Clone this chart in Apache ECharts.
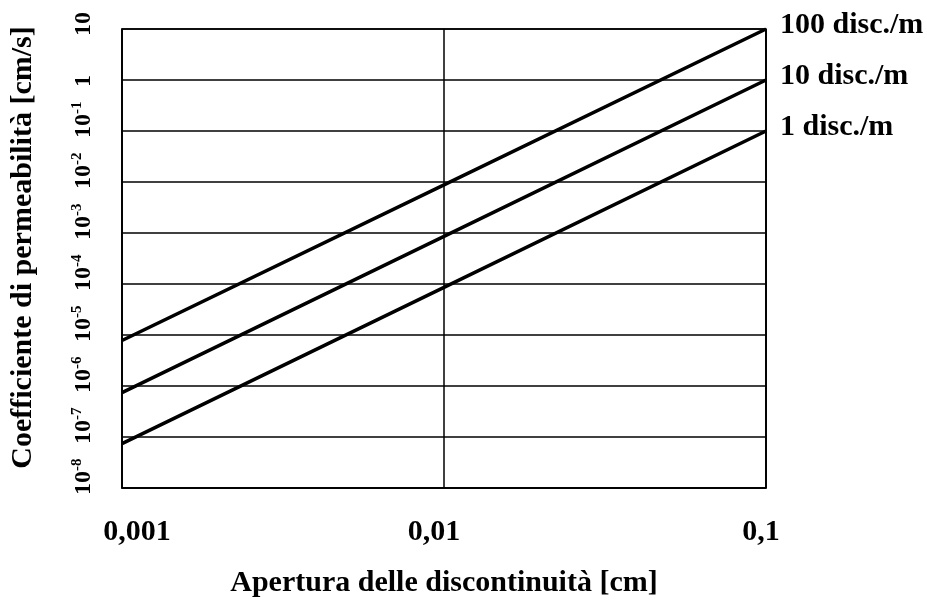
<!DOCTYPE html>
<html>
<head>
<meta charset="utf-8">
<script src="https://cdn.jsdelivr.net/npm/echarts@6/dist/echarts.min.js"></script>
<style>html,body{margin:0;padding:0;background:#fff;}#c{width:927px;height:603px;}</style>
</head>
<body>
<div id="c"></div>
<script>
// Data
const apertures = [0.001, 0.01, 0.1];               // cm
const k100 = [7.8e-6, 8.8e-3, 10];                 // 100 disc./m
const k10 = [7.4e-7, 8.6e-4, 1];                   // 10 disc./m
const k1 = [7.4e-8, 8.6e-5, 0.1];                  // 1 disc./m
const seriesNames = ['100 disc./m', '10 disc./m', '1 disc./m'];
const xTickLabels = {'0.001': '0,001', '0.01': '0,01', '0.1': '0,1'};
const xTitle = 'Apertura delle discontinuità [cm]';
const yTitle = 'Coefficiente di permeabilità [cm/s]';

const FONT = '"Liberation Serif", "Times New Roman", serif';
const pairs = v => apertures.map((x, i) => [x, v[i]]);

function yLabel(v) {
  const e = Math.round(Math.log10(v));
  if (e === 1) return '{b|10}';
  if (e === 0) return '{b|1}';
  return '{b|10}{s|' + (e < 0 ? '-' + (-e) : e) + '}';
}
const xStyleKeys = {'0.001': 'a', '0.01': 'm', '0.1': 'z'};
function xLabel(v) {
  const key = String(+v.toPrecision(3));
  if (xTickLabels[key] === undefined) return '';
  return '{' + xStyleKeys[key] + '|' + xTickLabels[key] + '}';
}

const chart = echarts.init(document.getElementById('c'), null, {renderer: 'canvas'});
const lineStyle = {color: '#000', width: 3.5};
const mk = (name, data) => ({
  name: name, type: 'line', data: pairs(data), symbol: 'none',
  lineStyle: lineStyle, itemStyle: {color: '#000'}, clip: true,
  endLabel: {
    show: true, formatter: name, color: '#000', fontFamily: FONT,
    fontWeight: 'bold', fontSize: 30, distance: 14, offset: [0, -4]
  },
  animation: false
});
const xl = {fontFamily: FONT, fontWeight: 'bold', fontSize: 30, color: '#000'};

chart.setOption({
  backgroundColor: '#fff',
  animation: false,
  grid: {left: 121, right: 161, top: 29, bottom: 111, show: true,
         borderColor: '#000', borderWidth: 1.5, backgroundColor: 'transparent'},
  xAxis: {
    type: 'log', logBase: 10, min: 0.001, max: 0.1,
    name: xTitle, nameLocation: 'middle', nameGap: 80,
    nameTextStyle: {fontFamily: FONT, fontWeight: 'bold', fontSize: 30, color: '#000'},
    axisLine: {show: true, lineStyle: {color: '#000', width: 1.5}},
    axisTick: {show: false},
    splitLine: {show: true, lineStyle: {color: '#000', width: 1.5}},
    axisLabel: {
      formatter: xLabel, margin: 29, color: '#000',
      rich: {
        a: Object.assign({padding: [0, 0, 0, 30]}, xl),
        m: Object.assign({padding: [0, 20, 0, 0]}, xl),
        z: Object.assign({padding: [0, 10, 0, 0]}, xl)
      }
    }
  },
  yAxis: {
    type: 'log', logBase: 10, min: 1e-8, max: 10, interval: 1,
    name: yTitle, nameLocation: 'middle', nameGap: 84, nameRotate: 90,
    nameTextStyle: {fontFamily: FONT, fontWeight: 'bold', fontSize: 30, color: '#000', padding: [0, 0, 0, 22]},
    axisLine: {show: true, lineStyle: {color: '#000', width: 1.5}},
    axisTick: {show: false},
    splitLine: {show: true, lineStyle: {color: '#000', width: 1.5}},
    axisLabel: {
      formatter: yLabel, rotate: 90, margin: 26, align: 'left', padding: [0, 0, 0, -7],
      color: '#000',
      rich: {
        b: {fontFamily: FONT, fontWeight: 'bold', fontSize: 24, color: '#000', lineHeight: 26, verticalAlign: 'bottom'},
        s: {fontFamily: FONT, fontWeight: 'bold', fontSize: 15, color: '#000', lineHeight: 26, verticalAlign: 'top', padding: [0, 0, 8, 0]}
      }
    }
  },
  series: [mk(seriesNames[0], k100), mk(seriesNames[1], k10), mk(seriesNames[2], k1)]
});
</script>
</body>
</html>
